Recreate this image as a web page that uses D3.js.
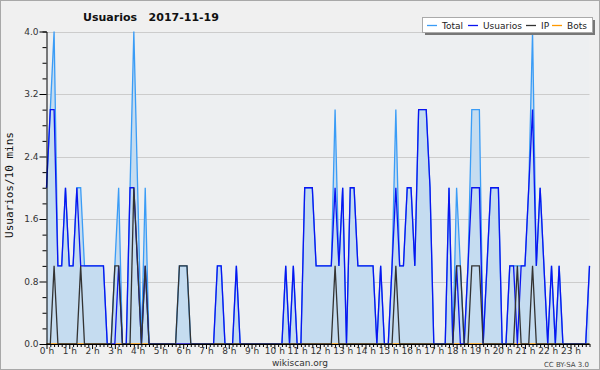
<!DOCTYPE html>
<html>
<head>
<meta charset="utf-8">
<script src="https://cdn.jsdelivr.net/npm/d3@7/dist/d3.min.js"></script>
<style>
  html, body { margin: 0; padding: 0; background: #f0f0f0; }
  svg { display: block; }
  text { font-family: "DejaVu Sans", Verdana, sans-serif; }
</style>
</head>
<body>
<svg id="chart" width="600" height="370"></svg>
<script>
// ---- data: one value per 10 minutes, 0 h .. 23 h 50 ----
const hourLabels = d3.range(24).map(h => h + " h");
const seriesNames = ["Total", "Usuarios", "IP", "Bots"];

const total = [
  2,3,4,1,1,2,  1,1,2,2,1,1,  1,1,1,1,0,0,  1,2,0,0,2,4,
  2,0,2,0,0,0,  0,0,0,0,0,1,  1,1,0,0,0,0,  0,0,0,1,1,0,
  0,0,1,0,0,0,  0,0,0,0,0,0,  0,0,0,1,0,1,  0,0,2,2,2,1,
  1,1,1,1,3,1,  2,0,2,2,1,1,  1,1,1,0,1,0,  0,1,3,1,1,2,
  2,1,3,3,3,2,  0,0,0,0,2,0,  2,1,0,1,3,3,  3,0,1,2,2,2,
  0,0,1,1,1,1,  1,2,4,1,2,1,  0,1,0,1,0,0,  0,0,0,0,0,1
];
const usuarios = [
  2,3,3,1,1,2,  1,1,2,1,1,1,  1,1,1,1,0,0,  0,1,0,0,2,2,
  1,0,1,0,0,0,  0,0,0,0,0,0,  0,0,0,0,0,0,  0,0,0,1,1,0,
  0,0,1,0,0,0,  0,0,0,0,0,0,  0,0,0,1,0,1,  0,0,2,2,2,1,
  1,1,1,1,2,1,  2,0,2,2,1,1,  1,1,1,0,1,0,  0,1,2,1,1,2,
  2,1,3,3,3,2,  0,0,0,0,2,0,  1,0,0,1,2,2,  2,0,1,2,2,2,
  0,0,1,1,0,1,  1,2,3,1,2,1,  0,1,0,1,0,0,  0,0,0,0,0,1
];
const ip = [
  0,0,1,0,0,0,  0,0,0,1,0,0,  0,0,0,0,0,0,  1,1,0,0,0,2,
  1,0,1,0,0,0,  0,0,0,0,0,1,  1,1,0,0,0,0,  0,0,0,0,0,0,
  0,0,0,0,0,0,  0,0,0,0,0,0,  0,0,0,0,0,0,  0,0,0,0,0,0,
  0,0,0,0,1,0,  0,0,0,0,0,0,  0,0,0,0,0,0,  0,0,1,0,0,0,
  0,0,0,0,0,0,  0,0,0,0,0,0,  1,1,0,0,1,1,  1,0,0,0,0,0,
  0,0,0,0,1,0,  0,0,1,0,0,0,  0,0,0,0,0,0,  0,0,0,0,0,0
];
const bots = [
  0,0,0,0,0,0,  0,0,0,0,0,0,  0,0,0,0,0,0,  0,0,0,0,0,0,
  0,0,0,0,0,0,  0,0,0,0,0,0,  0,0,0,0,0,0,  0,0,0,0,0,0,
  0,0,0,0,0,0,  0,0,0,0,0,0,  0,0,0,0,0,0,  0,0,0,0,0,0,
  0,0,0,0,0,0,  0,0,0,0,0,0,  0,0,0,0,0,0,  0,0,0,0,0,0,
  0,0,0,0,0,0,  0,0,0,0,0,0,  0,0,0,0,0,0,  0,0,0,0,0,0,
  0,0,0,0,0,0,  0,0,0,0,0,0,  0,0,0,0,0,0,  0,0,0,0,0,0
];
const yTickValues = [0, 0.8, 1.6, 2.4, 3.2, 4.0];

// ---- layout ----
const W = 600, H = 370;
const mLeft = 46.5, mRight = 589.5, mTop = 31.5, mBottom = 344;
const colors = { Total: "#3a9cf6", Usuarios: "#0a14f0", IP: "#333333", Bots: "#ff9900" };

const svg = d3.select("#chart");

svg.append("rect").attr("x", 0.5).attr("y", 0.5).attr("width", W - 1).attr("height", H - 1)
  .attr("fill", "#f0f0f0").attr("stroke", "#a8a8a8");

const n = total.length;
const x = d3.scaleLinear().domain([0, n - 1]).range([mLeft, mRight]);
const y = d3.scaleLinear().domain([0, 4]).range([mBottom, mTop]);

// plot background
svg.append("rect").attr("x", mLeft).attr("y", mTop).attr("width", mRight - mLeft).attr("height", mBottom - mTop)
  .attr("fill", "#edeff1");

// grid
svg.append("g").selectAll("line").data(yTickValues.filter(v => v > 0)).join("line")
  .attr("x1", mLeft).attr("x2", mRight)
  .attr("y1", d => Math.round(y(d)) + 0.5).attr("y2", d => Math.round(y(d)) + 0.5)
  .attr("stroke", "#cccccc").attr("stroke-width", 1);

// area + lines
const idx = d3.range(n);
const area = d3.area().x(i => x(i)).y0(y(0)).y1(i => y(total[i]));
svg.append("path").datum(idx).attr("d", area).attr("fill", "#c5dcf0");

function drawLine(arr, color) {
  const line = d3.line().x(i => x(i)).y(i => y(arr[i]));
  svg.append("path").datum(idx).attr("d", line).attr("fill", "none")
    .attr("stroke", color).attr("stroke-width", 1.3).attr("stroke-linejoin", "miter");
}
drawLine(bots, colors.Bots);
drawLine(total, colors.Total);
drawLine(usuarios, colors.Usuarios);
drawLine(ip, colors.IP);

// y axis
const isMajor = d => yTickValues.some(t => Math.abs(t - d) < 1e-6);
const yMinor = d3.range(0, 21).map(k => +(k * 0.2).toFixed(1));
const yAxis = d3.axisLeft(y).tickValues(yMinor).tickSize(4)
  .tickFormat(d => isMajor(d) ? d.toFixed(1) : "");
const gy = svg.append("g").attr("transform", `translate(${mLeft},0)`).call(yAxis);
gy.select(".domain").attr("stroke", "#000");
gy.selectAll(".tick line").attr("stroke", "#000").attr("x2", d => isMajor(d) ? -7 : -4);
gy.selectAll(".tick text").attr("x", -8).attr("font-size", 9).attr("fill", "#333")
  .style("font-family", "'DejaVu Sans', sans-serif");

// x axis
const xAxis = d3.axisBottom(x).tickValues(idx).tickSize(3)
  .tickFormat(i => i % 6 === 0 ? hourLabels[i / 6] : "");
const gx = svg.append("g").attr("transform", `translate(0,${mBottom})`).call(xAxis);
gx.select(".domain").attr("stroke", "#000").attr("d", `M${mLeft},0.5H${mRight}`);
gx.selectAll(".tick line").attr("stroke", "#000").attr("y2", i => i % 6 === 0 ? 5 : 3);
gx.selectAll(".tick text").attr("y", 4).attr("font-size", 9).attr("fill", "#333");

// title
svg.append("text").attr("x", 151).attr("y", 21).attr("text-anchor", "middle")
  .attr("font-size", 11).attr("font-weight", "bold").attr("fill", "#111")
  .style("white-space", "pre").text("Usuarios   2017-11-19");

// y label
svg.append("text").attr("transform", "translate(13,185) rotate(-90)").attr("text-anchor", "middle")
  .attr("font-size", 11).attr("fill", "#111").style("font-family", "'DejaVu Sans Mono', monospace")
  .text("Usuarios/10 mins");

// footer
svg.append("text").attr("x", 300).attr("y", 366).attr("text-anchor", "middle")
  .attr("font-size", 9).attr("fill", "#333").text("wikiscan.org");
svg.append("text").attr("x", 589).attr("y", 367).attr("text-anchor", "end")
  .attr("font-size", 7).attr("fill", "#444").text("CC BY-SA 3.0");

// legend
const lg = svg.append("g");
lg.append("rect").attr("x", 425).attr("y", 20).attr("width", 170).attr("height", 15).attr("fill", "#777");
lg.append("rect").attr("x", 422.5).attr("y", 17.5).attr("width", 170).attr("height", 15)
  .attr("fill", "#fff").attr("stroke", "#aaa");
const legendX = [427, 468, 526, 552];
seriesNames.forEach((name, k) => {
  lg.append("line").attr("x1", legendX[k]).attr("x2", legendX[k] + 10)
    .attr("y1", 25.5).attr("y2", 25.5).attr("stroke", colors[name]).attr("stroke-width", 1.3);
  lg.append("text").attr("x", legendX[k] + 15).attr("y", 29).attr("font-size", 9)
    .attr("fill", "#222").text(name);
});
</script>
</body>
</html>
